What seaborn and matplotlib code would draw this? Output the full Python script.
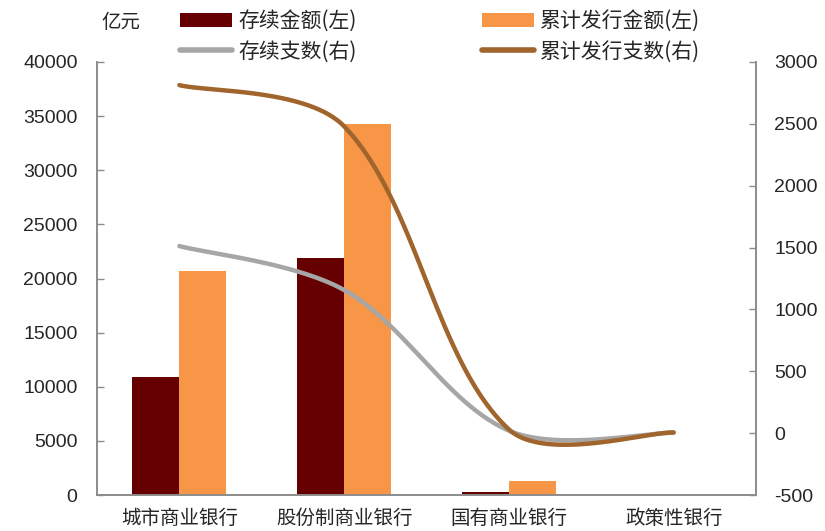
import numpy as np
import pandas as pd
import matplotlib
matplotlib.use("Agg")
import matplotlib.pyplot as plt
import seaborn as sns
from matplotlib.lines import Line2D
from matplotlib.patches import Patch

categories = ["城市商业银行", "股份制商业银行", "国有商业银行", "政策性银行"]
outstanding_amount = [10930, 21870, 250, 0]      # 存续金额(左)
issued_amount = [20720, 34230, 1290, 0]          # 累计发行金额(左)
outstanding_count = [1512, 1157, 20, 3]          # 存续支数(右)
issued_count = [2813, 2480, 30, 6]               # 累计发行支数(右)

left_ticks = [0, 5000, 10000, 15000, 20000, 25000, 30000, 35000, 40000]
right_ticks = [-500, 0, 500, 1000, 1500, 2000, 2500, 3000]

C_DARK = "#660000"
C_ORANGE = "#F79646"
C_GREY = "#A6A6A6"
C_BROWN = "#A0642D"
C_AXIS = "#8C8C8C"

sns.set_style("white")
plt.rcParams['font.family'] = ['Liberation Sans', 'Noto Sans CJK SC', 'DejaVu Sans']
CJK = ['Noto Sans CJK SC', 'DejaVu Sans']

fig = plt.figure(figsize=(8.25, 5.31), dpi=100)
ax = fig.add_axes([97/825, 1-495/531, (756-97)/825, (495-62)/531])

df = pd.DataFrame({
    "cat": categories * 2,
    "val": outstanding_amount + issued_amount,
    "series": ["存续金额(左)"] * 4 + ["累计发行金额(左)"] * 4,
})
sns.barplot(data=df, x="cat", y="val", hue="series", order=categories,
            palette=[C_DARK, C_ORANGE], width=0.57, errorbar=None,
            saturation=1, ax=ax, legend=False)
for p in ax.patches:
    p.set_edgecolor("none")

ax.set_xlim(-0.5, 3.5)
ax.set_ylim(0, 40000)
ax.set_yticks(left_ticks)
ax.set_yticklabels([str(t) for t in left_ticks])
ax.set_xlabel("")
ax.set_ylabel("")
ax.set_xticks(range(len(categories)))
ax.set_xticklabels(categories, family=CJK, fontsize=14)
ax.set_xticks([-0.5, 0.5, 1.5, 2.5, 3.5], minor=True)
ax.tick_params(axis='x', which='major', length=0, pad=9)
ax.tick_params(axis='x', which='minor', direction='in', length=5, color=C_AXIS, width=1)
ax.tick_params(axis='y', direction='in', length=5, color=C_AXIS, width=1,
               labelsize=14, pad=14, left=True)
for s in ["left", "bottom", "right"]:
    ax.spines[s].set_color(C_AXIS)
    ax.spines[s].set_linewidth(1.2)
ax.spines["top"].set_visible(False)

ax2 = ax.twinx()
ax2.set_ylim(-500, 3000)
ax2.set_yticks(right_ticks)
ax2.set_yticklabels([str(t) for t in right_ticks])
ax2.tick_params(axis='y', direction='in', length=5, color=C_AXIS, width=1,
                labelsize=14, pad=13, right=True)
for s in ["left", "bottom", "right"]:
    ax2.spines[s].set_color(C_AXIS)
    ax2.spines[s].set_linewidth(1.2)
ax2.spines["top"].set_visible(False)
ax2.grid(False)
ax.grid(False)

fig.canvas.draw()


def excel_smooth(xs, ys, axis, n=60):
    pts = axis.transData.transform(np.column_stack([xs, ys]))
    out = []
    m = len(pts)
    for i in range(m - 1):
        p0 = pts[i - 1] if i > 0 else pts[i]
        p1 = pts[i]
        p2 = pts[i + 1]
        p3 = pts[i + 2] if i + 2 < m else pts[i + 1]
        d01 = np.linalg.norm(p1 - p0)
        d12 = np.linalg.norm(p2 - p1)
        d23 = np.linalg.norm(p3 - p2)
        r1 = d12 / (d01 + d12) if (d01 + d12) > 0 else 0.5
        r2 = d12 / (d12 + d23) if (d12 + d23) > 0 else 0.5
        if i == 0:
            c1 = p1 + (p2 - p1) / 6
        else:
            c1 = p1 + (p2 - p0) * r1 / 3
        if i + 2 >= m:
            c2 = p2 - (p2 - p1) / 6
        else:
            c2 = p2 - (p3 - p1) * r2 / 3
        t = np.linspace(0, 1, n)[:, None]
        seg = ((1 - t) ** 3) * p1 + 3 * ((1 - t) ** 2) * t * c1 + 3 * (1 - t) * t ** 2 * c2 + t ** 3 * p2
        out.append(seg if i == 0 else seg[1:])
    disp = np.vstack(out)
    data = axis.transData.inverted().transform(disp)
    return data[:, 0], data[:, 1]


xs = np.arange(len(categories))
gx, gy = excel_smooth(xs, outstanding_count, ax2)
bx, by = excel_smooth(xs, issued_count, ax2)
ax2.plot(gx, gy, color=C_GREY, lw=3.2, solid_capstyle='round', zorder=3)
ax2.plot(bx, by, color=C_BROWN, lw=3.2, solid_capstyle='round', zorder=4)

handles = [
    Patch(facecolor=C_DARK, edgecolor="none"),
    Line2D([0], [0], color=C_GREY, lw=4, solid_capstyle='round'),
    Patch(facecolor=C_ORANGE, edgecolor="none"),
    Line2D([0], [0], color=C_BROWN, lw=4, solid_capstyle='round'),
]
labels = ["存续金额(左)", "存续支数(右)", "累计发行金额(左)", "累计发行支数(右)"]
fig.legend(handles, labels, ncol=2, loc="upper left", bbox_to_anchor=(176/825, 1 - 6/531),
           frameon=False, prop={'family': CJK, 'size': 15},
           handlelength=2.5, handleheight=0.7, handletextpad=0.3,
           columnspacing=6.0, labelspacing=0.4, borderpad=0.2, borderaxespad=0)

fig.text(101/825, 1 - 22/531, "亿元", family=CJK, fontsize=14, va='center', ha='left')

fig.savefig("out.png", dpi=100)
